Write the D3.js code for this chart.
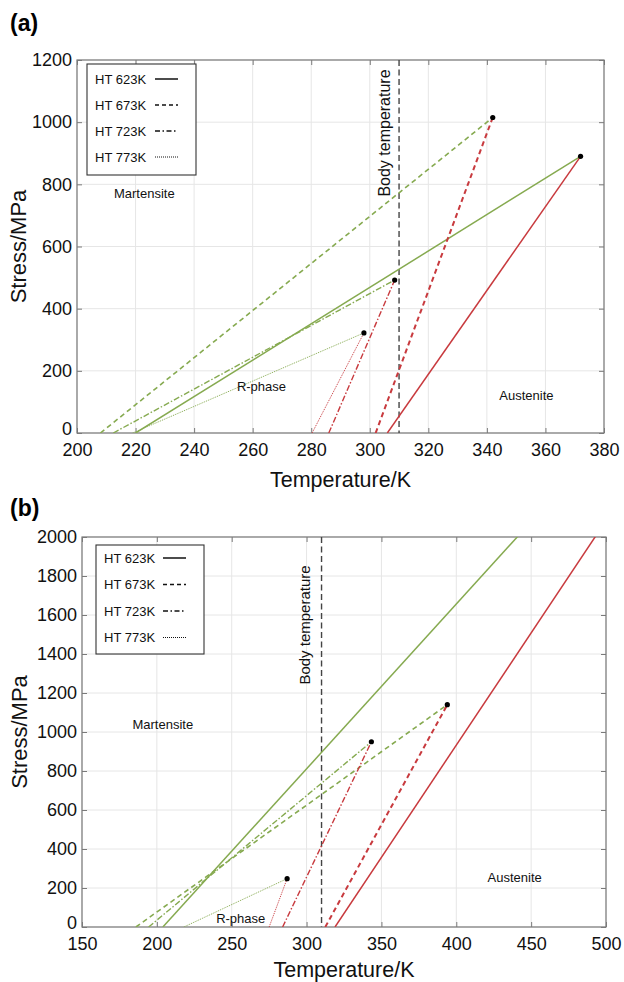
<!DOCTYPE html>
<html>
<head>
<meta charset="utf-8">
<script src="https://cdn.jsdelivr.net/npm/d3@7/dist/d3.min.js"></script>
<style>
  html, body { margin: 0; padding: 0; background: #fff; }
  svg { display: block; font-family: "Liberation Sans", Arial, Helvetica, sans-serif; }
</style>
</head>
<body>
<svg id="chart" width="624" height="982"></svg>
<script>
// Heat-treatment series (shared by both panels)
const seriesNames = ["HT 623K", "HT 673K", "HT 723K", "HT 773K"];

// Panel (a): stress-temperature phase lines
const aGreenStartT = [220, 208, 212.4, 219];   // R/martensite start (stress = 0)
const aRedStartT   = [306, 302, 286, 280.3];   // austenite start (stress = 0)
const aPeakT       = [372, 342, 308.5, 298];   // meeting point, temperature
const aPeakS       = [890, 1015, 492, 322];    // meeting point, stress
const aXTicks = [200, 220, 240, 260, 280, 300, 320, 340, 360, 380];
const aYTicks = [0, 200, 400, 600, 800, 1000, 1200];

// Panel (b): stress-temperature phase lines
const bGreenStartT = [204, 186, 194.5, 218];
const bRedStartT   = [319, 312.5, 284, 275];
const bPeakT       = [636, 394, 343.3, 287];
const bPeakS       = [3650, 1140, 950, 248];
const bPeakShown   = [false, true, true, true];
const bXTicks = [150, 200, 250, 300, 350, 400, 450, 500];
const bYTicks = [0, 200, 400, 600, 800, 1000, 1200, 1400, 1600, 1800, 2000];

const bodyTemperature = 310;

const GREEN = "#86aa50";
const RED = "#c83a3e";
const styles = [
  { dash: null,          width: 1.5, legendDash: null },
  { dash: "5,3.5",       width: 1.6, legendDash: "4,3" },
  { dash: "6,2,1.5,2",   width: 1.4, legendDash: "5,2.5,1.5,2.5" },
  { dash: "1,1",         width: 1.0, legendDash: "1,1" }
];

const svg = d3.select("#chart");

function drawPanel(cfg) {
  const g = svg.append("g");
  const x = d3.scaleLinear().domain(cfg.xDomain).range([cfg.left, cfg.right]);
  const y = d3.scaleLinear().domain(cfg.yDomain).range([cfg.bottom, cfg.top]);

  const clipId = "clip-" + cfg.id;
  svg.append("defs").append("clipPath").attr("id", clipId)
    .append("rect").attr("x", cfg.left).attr("y", cfg.top)
    .attr("width", cfg.right - cfg.left).attr("height", cfg.bottom - cfg.top);

  // grid
  g.append("g").selectAll("line.vx").data(cfg.xTicks).join("line")
    .attr("x1", d => x(d)).attr("x2", d => x(d))
    .attr("y1", cfg.top).attr("y2", cfg.bottom)
    .attr("stroke", "#e6e6e6").attr("stroke-width", 1);
  g.append("g").selectAll("line.hy").data(cfg.yTicks).join("line")
    .attr("x1", cfg.left).attr("x2", cfg.right)
    .attr("y1", d => y(d)).attr("y2", d => y(d))
    .attr("stroke", "#e6e6e6").attr("stroke-width", 1);

  // axes (ticks inward, mirrored on top/right)
  const axisColor = "#7a7a7a";
  const styleAxis = (sel, showText) => {
    sel.select(".domain").remove();
    sel.selectAll(".tick line").attr("stroke", axisColor);
    sel.selectAll(".tick text").attr("fill", "#111").style("font-size", "18px")
      .style("font-family", "Liberation Sans, Arial, sans-serif");
    if (!showText) sel.selectAll(".tick text").remove();
  };
  g.append("g").attr("transform", `translate(0,${cfg.bottom})`)
    .call(d3.axisBottom(x).tickValues(cfg.xTicks).tickSize(-5).tickPadding(10).tickFormat(d3.format("d")))
    .call(s => styleAxis(s, true));
  g.append("g").attr("transform", `translate(0,${cfg.top})`)
    .call(d3.axisTop(x).tickValues(cfg.xTicks).tickSize(-5))
    .call(s => styleAxis(s, false));
  g.append("g").attr("transform", `translate(${cfg.left},0)`)
    .call(d3.axisLeft(y).tickValues(cfg.yTicks).tickSize(-5).tickPadding(5).tickFormat(d3.format("d")))
    .call(s => styleAxis(s, true))
    .call(s => s.selectAll(".tick text").filter(d => d === 0).attr("dy", "0.1em"));
  g.append("g").attr("transform", `translate(${cfg.right},0)`)
    .call(d3.axisRight(y).tickValues(cfg.yTicks).tickSize(-5))
    .call(s => styleAxis(s, false));
  g.append("rect").attr("x", cfg.left).attr("y", cfg.top)
    .attr("width", cfg.right - cfg.left).attr("height", cfg.bottom - cfg.top)
    .attr("fill", "none").attr("stroke", axisColor).attr("stroke-width", 1.2);

  // body temperature marker
  g.append("line")
    .attr("x1", x(bodyTemperature)).attr("x2", x(bodyTemperature))
    .attr("y1", cfg.top).attr("y2", cfg.bottom)
    .attr("stroke", "#444").attr("stroke-width", 1.4).attr("stroke-dasharray", "6,3.5");
  g.append("text")
    .attr("transform", `translate(${x(bodyTemperature) - cfg.bodyLabelDx},${cfg.bodyLabelY}) rotate(-90)`)
    .attr("text-anchor", "middle").attr("dominant-baseline", "central")
    .style("font-size", cfg.bodyFont + "px").attr("fill", "#111")
    .text("Body temperature");

  // phase lines
  const lines = g.append("g").attr("clip-path", `url(#${clipId})`);
  const line = d3.line().x(d => x(d[0])).y(d => y(d[1]));
  seriesNames.forEach((name, i) => {
    const peak = [cfg.peakT[i], cfg.peakS[i]];
    [[cfg.greenStart[i], GREEN], [cfg.redStart[i], RED]].forEach(([t0, color]) => {
      lines.append("path")
        .attr("d", line([[t0, 0], peak]))
        .attr("fill", "none").attr("stroke", color)
        .attr("stroke-width", styles[i].width + (color === RED && i === 1 ? 0.4 : 0))
        .attr("stroke-dasharray", styles[i].dash);
    });
  });
  // meeting points
  g.append("g").selectAll("circle")
    .data(seriesNames.map((n, i) => i).filter(i => cfg.peakShown[i]))
    .join("circle")
    .attr("cx", i => x(cfg.peakT[i])).attr("cy", i => y(cfg.peakS[i]))
    .attr("r", 2.6).attr("fill", "#000");

  // region labels
  cfg.regions.forEach(r => {
    g.append("text").attr("x", x(r.t)).attr("y", y(r.s))
      .attr("text-anchor", "middle").attr("dominant-baseline", "central")
      .style("font-size", "13px").attr("fill", "#111").text(r.label);
  });

  // legend
  const lg = g.append("g");
  lg.append("rect").attr("x", cfg.legend.x).attr("y", cfg.legend.y)
    .attr("width", cfg.legend.w).attr("height", cfg.legend.h)
    .attr("fill", "#fff").attr("stroke", "#333").attr("stroke-width", 1.1);
  seriesNames.forEach((name, i) => {
    const yy = cfg.legend.y + cfg.legend.row0 + i * cfg.legend.step;
    lg.append("text").attr("x", cfg.legend.x + 8).attr("y", yy)
      .attr("dominant-baseline", "central")
      .style("font-size", "13px").attr("fill", "#111").text(name);
    lg.append("line")
      .attr("x1", cfg.legend.x + cfg.legend.sx0).attr("x2", cfg.legend.x + cfg.legend.sx1)
      .attr("y1", yy).attr("y2", yy)
      .attr("stroke", "#111").attr("stroke-width", i === 3 ? 1 : 1.5)
      .attr("stroke-dasharray", styles[i].legendDash);
  });

  // axis titles & panel tag
  g.append("text").attr("x", (cfg.left + cfg.right) / 2).attr("y", cfg.xTitleY)
    .attr("text-anchor", "middle").attr("dominant-baseline", "central")
    .style("font-size", "21.5px").attr("fill", "#111").text("Temperature/K");
  g.append("text")
    .attr("transform", `translate(${cfg.yTitleX},${(cfg.top + cfg.bottom) / 2}) rotate(-90)`)
    .attr("text-anchor", "middle").attr("dominant-baseline", "central")
    .style("font-size", "22px").attr("fill", "#111").text("Stress/MPa");
  g.append("text").attr("x", 10).attr("y", cfg.tagY)
    .attr("dominant-baseline", "central")
    .style("font-size", "23px").style("font-weight", "bold").attr("fill", "#000").text(cfg.tag);
}

drawPanel({
  id: "a", tag: "(a)", tagY: 23,
  left: 77, right: 604, top: 60, bottom: 433,
  xDomain: [200, 380], yDomain: [0, 1200],
  xTicks: aXTicks, yTicks: aYTicks,
  greenStart: aGreenStartT, redStart: aRedStartT,
  peakT: aPeakT, peakS: aPeakS, peakShown: [true, true, true, true],
  bodyLabelDx: 15, bodyLabelY: 133, bodyFont: 16,
  regions: [
    { label: "Martensite", t: 223, s: 772 },
    { label: "R-phase", t: 263, s: 150 },
    { label: "Austenite", t: 353.5, s: 120 }
  ],
  legend: { x: 87, y: 64, w: 109, h: 111, row0: 15, step: 26, sx0: 68, sx1: 91 },
  xTitleY: 480, yTitleX: 18
});

drawPanel({
  id: "b", tag: "(b)", tagY: 508,
  left: 82, right: 606, top: 537, bottom: 927,
  xDomain: [150, 500], yDomain: [0, 2000],
  xTicks: bXTicks, yTicks: bYTicks,
  greenStart: bGreenStartT, redStart: bRedStartT,
  peakT: bPeakT, peakS: bPeakS, peakShown: bPeakShown,
  bodyLabelDx: 17, bodyLabelY: 625, bodyFont: 15,
  regions: [
    { label: "Martensite", t: 204, s: 1040 },
    { label: "R-phase", t: 256, s: 45 },
    { label: "Austenite", t: 439, s: 255 }
  ],
  legend: { x: 96, y: 545, w: 108, h: 109, row0: 13, step: 26.5, sx0: 67, sx1: 90 },
  xTitleY: 970, yTitleX: 19
});
</script>
</body>
</html>
